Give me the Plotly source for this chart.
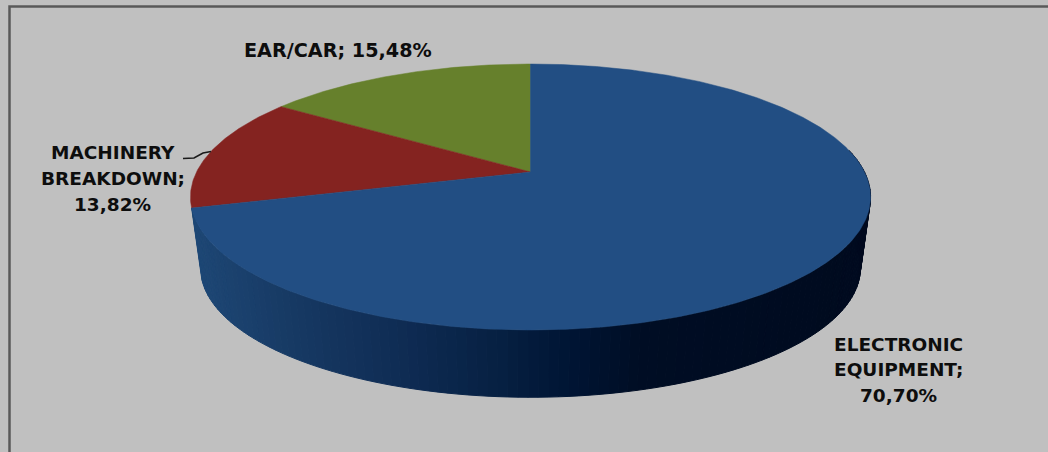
import math
import plotly.graph_objects as go

# ---- data ----
categories = ["EAR/CAR", "MACHINERY BREAKDOWN", "ELECTRONIC EQUIPMENT"]
shares = [15.48, 13.82, 70.70]
share_labels = ["15,48%", "13,82%", "70,70%"]
slice_colors = ["#66802C", "#842320", "#224E83"]

WIDTH, HEIGHT = 1048, 452
CX, APEX_Y = 530.5, 172.0
A, B, K = 334.0, 128.3, 0.188
WALL_SCALE, WALL_APEX_Y = 0.97, 244.0
wall_stops = [(190, (30, 72, 118)), (300, (22, 56, 98)), (400, (15, 44, 84)),
              (500, (6, 32, 66)), (560, (0, 22, 54)), (640, (0, 13, 36)),
              (880, (0, 10, 30))]


def project(deg, scale=1.0, apex=APEX_Y):
    t = math.radians(deg)
    u, v = math.sin(t), math.cos(t)
    d = 1 + K * v
    return CX + scale * A * u / d, apex - scale * B * v / d


def wall_color(x):
    for (x0, c0), (x1, c1) in zip(wall_stops, wall_stops[1:]):
        if x <= x1:
            f = max(0, (x - x0) / (x1 - x0))
            return "rgb(%d,%d,%d)" % tuple(round(a + (b - a) * f) for a, b in zip(c0, c1))
    return "rgb(%d,%d,%d)" % wall_stops[-1][1]


fig = go.Figure()

# side wall of the blue slice, seen from the right silhouette round to where the slice starts
total = sum(shares)
wall_end = 360 - 360 * (shares[0] + shares[1]) / total
wall_start = 80.0
N = 120
for i in range(N):
    d0 = wall_start + (wall_end - wall_start) * i / N
    d1 = wall_start + (wall_end - wall_start) * (i + 1) / N
    p = [project(d0), project(d1), project(d1, WALL_SCALE, WALL_APEX_Y), project(d0, WALL_SCALE, WALL_APEX_Y)]
    xs = [q[0] for q in p] + [p[0][0]]
    ys = [q[1] for q in p] + [p[0][1]]
    col = wall_color(sum(xs[:4]) / 4)
    fig.add_trace(go.Scatter(x=xs, y=ys, mode="lines", fill="toself", fillcolor=col,
                             line=dict(color=col, width=1), hoverinfo="skip", showlegend=False))

# top face: slices run counter-clockwise from twelve o'clock
start = 0.0
for name, share, col in zip(categories, shares, slice_colors):
    sweep = 360 * share / total
    steps = max(4, int(sweep * 2))
    pts = [project(start - sweep * j / steps) for j in range(steps + 1)]
    xs = [CX] + [q[0] for q in pts] + [CX]
    ys = [APEX_Y] + [q[1] for q in pts] + [APEX_Y]
    fig.add_trace(go.Scatter(x=xs, y=ys, mode="lines", fill="toself", fillcolor=col,
                             line=dict(color=col, width=0.5), name=name, showlegend=False,
                             hovertemplate=name + ": %{customdata}<extra></extra>",
                             customdata=[share] * len(xs)))
    start -= sweep

# leader line of the MACHINERY label
fig.add_trace(go.Scatter(x=[183, 194, 203, 211], y=[158.5, 158, 153, 151.5], mode="lines",
                         line=dict(color="#1a1a1a", width=1.6),
                         hoverinfo="skip", showlegend=False))

label_lines = [
    (338, [("EAR/CAR; " + share_labels[0], 50, 19.2)]),
    (112.5, [("MACHINERY", 152, 18.5), ("BREAKDOWN;", 178, 18.5), (share_labels[1], 204, 18.5)]),
    (898.5, [("ELECTRONIC", 344, 18.5), ("EQUIPMENT;", 369, 18.5), (share_labels[2], 395, 18.5)]),
]
annotations = []
for x, lines in label_lines:
    for text, y, size in lines:
        annotations.append(dict(x=x, y=y, xref="x", yref="y", text=text, showarrow=False,
                                xanchor="center", yanchor="middle",
                                font=dict(family="DejaVu Sans", size=size, color="#0d0d0d", weight="bold")))

fig.update_layout(
    width=WIDTH, height=HEIGHT, autosize=False,
    margin=dict(l=0, r=0, t=0, b=0),
    paper_bgcolor="#C0C0C0", plot_bgcolor="#C0C0C0",
    xaxis=dict(range=[0, WIDTH], visible=False, fixedrange=True),
    yaxis=dict(range=[HEIGHT, 0], visible=False, fixedrange=True),
    annotations=annotations,
    shapes=[dict(type="rect", xref="x", yref="y", x0=9.5, y0=6.5, x1=WIDTH + 20, y1=HEIGHT + 20,
                 line=dict(color="#595959", width=2.5), fillcolor="rgba(0,0,0,0)", layer="below")],
)
fig.write_html("out.html", config=dict(displayModeBar=False),
               post_script="document.body.style.margin='0';document.documentElement.style.overflow='hidden';")
